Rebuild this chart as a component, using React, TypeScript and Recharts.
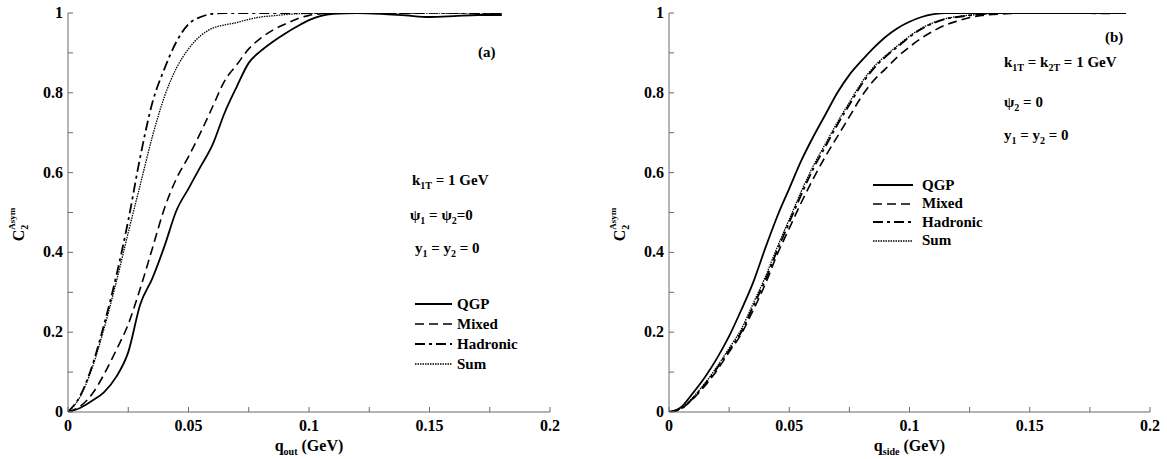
import React from 'react';
import { LineChart, Line, XAxis, YAxis, Legend, Label } from 'recharts';

// panel (a): q_out
const qOut = [0, 0.005, 0.01, 0.015, 0.02, 0.025, 0.03, 0.035, 0.04, 0.045, 0.05, 0.055, 0.06, 0.065, 0.07, 0.075, 0.08, 0.085, 0.09, 0.095, 0.1, 0.105, 0.11, 0.12, 0.13, 0.14, 0.15, 0.16, 0.17, 0.18];
const qgpOut = [0, 0.01, 0.028, 0.05, 0.088, 0.15, 0.27, 0.335, 0.415, 0.505, 0.56, 0.615, 0.67, 0.75, 0.815, 0.875, 0.905, 0.928, 0.948, 0.966, 0.982, 0.993, 0.998, 1.0, 0.998, 0.994, 0.99, 0.992, 0.995, 0.995];
const mixedOut = [0, 0.014, 0.045, 0.095, 0.155, 0.22, 0.31, 0.41, 0.51, 0.585, 0.64, 0.7, 0.765, 0.83, 0.87, 0.91, 0.937, 0.957, 0.972, 0.985, 0.994, 0.998, 1.0, 1.0, 1.002, 0.999, 1.0, 1.001, 1.0, 1.0];
const hadronicOut = [0, 0.04, 0.115, 0.22, 0.34, 0.48, 0.64, 0.775, 0.86, 0.928, 0.972, 0.99, 0.998, 1.0, 1.0, 1.0, 1.0, 1.0, 1.0, 1.0, 1.0, 1.0, 1.0, 1.0, 1.0, 1.0, 1.002, 1.0, 1.0, 1.0];
const sumOut = [0, 0.038, 0.11, 0.21, 0.325, 0.45, 0.57, 0.69, 0.79, 0.862, 0.91, 0.943, 0.962, 0.97, 0.976, 0.984, 0.99, 0.993, 0.996, 0.998, 0.999, 1.0, 1.0, 1.0, 1.0, 1.0, 1.0, 1.0, 1.0, 1.0];

// panel (b): q_side
const qSide = [0, 0.005, 0.01, 0.015, 0.02, 0.025, 0.03, 0.035, 0.04, 0.045, 0.05, 0.055, 0.06, 0.065, 0.07, 0.075, 0.08, 0.085, 0.09, 0.095, 0.1, 0.105, 0.11, 0.115, 0.12, 0.13, 0.14, 0.15, 0.16, 0.17, 0.18, 0.19];
const qgpSide = [0, 0.012, 0.048, 0.088, 0.135, 0.19, 0.255, 0.325, 0.41, 0.49, 0.56, 0.63, 0.69, 0.745, 0.8, 0.845, 0.88, 0.912, 0.94, 0.962, 0.978, 0.99, 0.997, 1.0, 1.0, 1.0, 1.0, 1.0, 1.0, 1.0, 1.0, 1.0];
const mixedSide = [0, 0.008, 0.033, 0.066, 0.105, 0.15, 0.195, 0.255, 0.32, 0.395, 0.46, 0.525, 0.585, 0.64, 0.69, 0.74, 0.79, 0.83, 0.86, 0.89, 0.915, 0.937, 0.955, 0.97, 0.98, 0.994, 0.998, 1.0, 1.0, 1.0, 0.999, 1.0];
const hadronicSide = [0, 0.008, 0.035, 0.07, 0.11, 0.155, 0.2, 0.265, 0.33, 0.405, 0.475, 0.545, 0.61, 0.665, 0.72, 0.77, 0.82, 0.86, 0.89, 0.915, 0.94, 0.96, 0.975, 0.985, 0.99, 0.997, 1.0, 1.0, 1.0, 1.002, 1.0, 1.0];
const sumSide = [0, 0.009, 0.037, 0.073, 0.114, 0.16, 0.207, 0.272, 0.338, 0.413, 0.483, 0.553, 0.617, 0.672, 0.726, 0.776, 0.825, 0.864, 0.893, 0.918, 0.942, 0.962, 0.976, 0.986, 0.991, 0.997, 1.0, 1.0, 1.0, 1.0, 1.0, 1.0];

const xTicks = [0, 0.025, 0.05, 0.075, 0.1, 0.125, 0.15, 0.175, 0.2];
const yTicks = [0, 0.1, 0.2, 0.3, 0.4, 0.5, 0.6, 0.7, 0.8, 0.9, 1];

const FONT = '"Liberation Serif", "Times New Roman", serif';
const AXIS = '#6a6a6a';
const TICK = 5;

const SERIES = [
  { key: 'qgp', name: 'QGP', width: 1.8, dash: undefined },
  { key: 'mixed', name: 'Mixed', width: 1.6, dash: '9 5' },
  { key: 'hadronic', name: 'Hadronic', width: 1.8, dash: '10 4 3 4' },
  { key: 'sum', name: 'Sum', width: 1.3, dash: '1.5 1' },
];

const outData = qOut.map((q, i) => ({ q, qgp: qgpOut[i], mixed: mixedOut[i], hadronic: hadronicOut[i], sum: sumOut[i] }));
const sideData = qSide.map((q, i) => ({ q, qgp: qgpSide[i], mixed: mixedSide[i], hadronic: hadronicSide[i], sum: sumSide[i] }));

const fmt = (v: number) => String(Number(v.toFixed(3)));

const BottomTick = (props: any) => {
  const { x, y, payload } = props;
  const v = payload.value;
  const major = Math.abs(v * 20 - Math.round(v * 20)) < 1e-6;
  return (
    <g>
      <line x1={x} x2={x} y1={y} y2={y - TICK} stroke={AXIS} />
      {major && (
        <text x={x} y={y + 19} textAnchor="middle" fontFamily={FONT} fontWeight="bold" fontSize={16} fill="#000">
          {fmt(v)}
        </text>
      )}
    </g>
  );
};

const LeftTick = (props: any) => {
  const { x, y, payload } = props;
  const v = payload.value;
  const major = Math.round(v * 10) % 2 === 0;
  return (
    <g>
      <line x1={x} x2={x + TICK} y1={y} y2={y} stroke={AXIS} />
      {major && (
        <text x={x - 5} y={y + 5} textAnchor="end" fontFamily={FONT} fontWeight="bold" fontSize={16} fill="#000">
          {fmt(v)}
        </text>
      )}
    </g>
  );
};

const TopTick = (props: any) => <line x1={props.x} x2={props.x} y1={props.y} y2={props.y + TICK} stroke={AXIS} />;
const RightTick = (props: any) => <line x1={props.x} x2={props.x - TICK} y1={props.y} y2={props.y} stroke={AXIS} />;

const legendContent = (rowH: number, lineW: number, gap: number) => () => (
  <div style={{ fontFamily: FONT, fontWeight: 'bold', fontSize: 15, color: '#000' }}>
    {SERIES.map((s) => (
      <div key={s.key} style={{ display: 'flex', alignItems: 'center', height: rowH, whiteSpace: 'nowrap' }}>
        <svg width={lineW} height={6}>
          <line x1={0} x2={lineW} y1={3} y2={3} stroke="#000" strokeWidth={s.width} strokeDasharray={s.dash} />
        </svg>
        <span style={{ marginLeft: gap }}>{s.name}</span>
      </div>
    ))}
  </div>
);

const Sub = ({ children }: { children: React.ReactNode }) => (
  <span style={{ fontSize: 10, position: 'relative', top: 4 }}>{children}</span>
);

const Note = ({ left, top, children }: { left: number; top: number; children: React.ReactNode }) => (
  <div style={{ position: 'absolute', left, top, fontFamily: FONT, fontWeight: 'bold', fontSize: 15, lineHeight: '16px', whiteSpace: 'nowrap', color: '#000' }}>
    {children}
  </div>
);

interface PanelProps {
  data: any[];
  width: number;
  yWidth: number;
  marginRight: number;
  sub: string;
  rightBorder: boolean;
  legendPos: { left: number; top: number };
  rowH: number;
  lineW: number;
  gap: number;
}

const Panel = ({ data, width, yWidth, marginRight, sub, rightBorder, legendPos, rowH, lineW, gap }: PanelProps) => (
  <LineChart width={width} height={459} data={data} margin={{ top: 13, right: marginRight, bottom: 0, left: 0 }}>
    <XAxis
      dataKey="q"
      type="number"
      domain={[0, 0.2]}
      ticks={xTicks}
      interval={0}
      height={47}
      tickSize={0}
      tickMargin={0}
      tickLine={false}
      tick={BottomTick}
      axisLine={{ stroke: AXIS }}
    >
      <Label
        content={(p: any) => {
          const vb = p.viewBox;
          return (
            <text x={vb.x + vb.width / 2} y={vb.y + 39} textAnchor="middle" fontFamily={FONT} fontWeight="bold" fontSize={16} fill="#000">
              q<tspan fontSize={10} dy={4}>{sub}</tspan>
              <tspan dy={-4}> (GeV)</tspan>
            </text>
          );
        }}
      />
    </XAxis>
    <XAxis xAxisId="top" orientation="top" type="number" domain={[0, 0.2]} ticks={xTicks} interval={0} height={0} tickSize={0} tickLine={false} tick={TopTick} axisLine={{ stroke: AXIS }} allowDataOverflow />
    <YAxis
      type="number"
      domain={[0, 1]}
      ticks={yTicks}
      interval={0}
      width={yWidth}
      tickSize={0}
      tickMargin={0}
      tickLine={false}
      tick={LeftTick}
      axisLine={{ stroke: AXIS }}
      allowDataOverflow
    >
      <Label
        content={(p: any) => {
          const vb = p.viewBox;
          const cx = vb.x + vb.width - 44;
          const cy = vb.y + vb.height / 2 + 12;
          return (
            <text x={cx} y={cy} transform={`rotate(-90, ${cx}, ${cy})`} textAnchor="middle" fontFamily={FONT} fontWeight="bold" fontSize={16} fill="#000">
              C<tspan fontSize={10} dy={4}>2</tspan>
              <tspan fontSize={9} dx={-5} dy={-13}>Asym</tspan>
            </text>
          );
        }}
      />
    </YAxis>
    <YAxis yAxisId="right" orientation="right" type="number" domain={[0, 1]} ticks={yTicks} interval={0} width={0} tickSize={0} tickLine={false} tick={RightTick} axisLine={rightBorder ? { stroke: AXIS } : false} allowDataOverflow />
    <Legend
      layout="vertical"
      align="center"
      verticalAlign="middle"
      content={legendContent(rowH, lineW, gap)}
      wrapperStyle={{ left: legendPos.left, top: legendPos.top, width: 'auto' }}
    />
    {SERIES.map((s) => (
      <Line
        key={s.key}
        dataKey={s.key}
        name={s.name}
        type="monotone"
        stroke="#000"
        strokeWidth={s.width}
        strokeDasharray={s.dash}
        dot={false}
        activeDot={false}
        isAnimationActive={false}
      />
    ))}
  </LineChart>
);

export default function App() {
  return (
    <div style={{ position: 'absolute', left: 0, top: 0, width: 1167, height: 459, background: '#fff', overflow: 'hidden' }}>
      <div style={{ position: 'absolute', left: 0, top: 0 }}>
        <Panel data={outData} width={600} yWidth={68} marginRight={50} sub="out" rightBorder legendPos={{ left: 415, top: 294 }} rowH={20} lineW={37} gap={5} />
      </div>
      <div style={{ position: 'absolute', left: 600, top: 0 }}>
        <Panel data={sideData} width={567} yWidth={69} marginRight={17} sub="side" rightBorder={false} legendPos={{ left: 273, top: 176 }} rowH={18.5} lineW={40} gap={9} />
      </div>

      <Note left={478} top={44}>(a)</Note>
      <Note left={412} top={172}>k<Sub>1T</Sub> = 1 GeV</Note>
      <Note left={410} top={207}>ψ<Sub>1</Sub> = ψ<Sub>2</Sub>=0</Note>
      <Note left={415} top={240}>y<Sub>1</Sub> = y<Sub>2</Sub> = 0</Note>

      <Note left={1105} top={29}>(b)</Note>
      <Note left={1004} top={54}>k<Sub>1T</Sub> = k<Sub>2T</Sub> = 1 GeV</Note>
      <Note left={1004} top={94}>ψ<Sub>2</Sub> = 0</Note>
      <Note left={1004} top={127}>y<Sub>1</Sub> = y<Sub>2</Sub> = 0</Note>
    </div>
  );
}
